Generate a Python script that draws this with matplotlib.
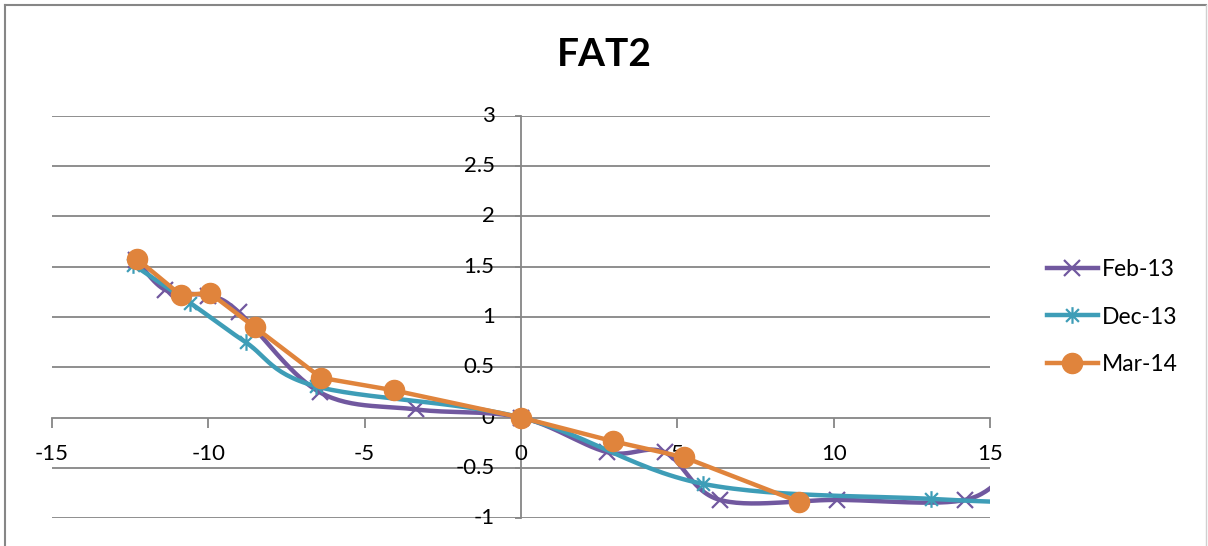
import numpy as np
import matplotlib
matplotlib.use("Agg")
import matplotlib.pyplot as plt
from matplotlib.path import Path
from matplotlib.lines import Line2D

plt.rcParams['font.family'] = ['Lato', 'DejaVu Sans']
plt.rcParams['axes.unicode_minus'] = False

# Feb-13
feb_x = [-12.3, -11.38, -10.0, -9.03, -6.43, -3.35, 0.0, 2.76, 4.59, 6.36, 10.1, 14.2, 15.8]
feb_y = [1.57, 1.27, 1.21, 1.05, 0.25, 0.08, 0.0, -0.345, -0.345, -0.82, -0.82, -0.82, -0.45]
# Dec-13
dec_x = [-12.4, -10.58, -8.81, -6.55, 0.0, 5.82, 13.12, 16.5]
dec_y = [1.52, 1.14, 0.75, 0.31, 0.0, -0.66, -0.81, -0.85]
# Mar-14
mar_x = [-12.29, -10.87, -9.96, -8.52, -6.39, -4.06, 0.0, 2.94, 5.21, 8.90]
mar_y = [1.58, 1.215, 1.24, 0.90, 0.395, 0.27, 0.0, -0.236, -0.395, -0.84]

labels = ['Feb-13', 'Dec-13', 'Mar-14']
colors = ['#71589f', '#3e9db7', '#e0843c']


def smooth(xs, ys, n=30):
    # Catmull-Rom style bezier smoothing like spreadsheet "smoothed line"
    p = np.column_stack([xs, ys]).astype(float)
    out = []
    for i in range(len(p) - 1):
        p0 = p[i - 1] if i > 0 else p[i]
        p1, p2 = p[i], p[i + 1]
        p3 = p[i + 2] if i + 2 < len(p) else p[i + 1]
        c1 = p1 + (p2 - p0) / 6
        c2 = p2 - (p3 - p1) / 6
        t = np.linspace(0, 1, n)[:, None]
        seg = ((1 - t) ** 3 * p1 + 3 * (1 - t) ** 2 * t * c1
               + 3 * (1 - t) * t ** 2 * c2 + t ** 3 * p2)
        out.append(seg if i == 0 else seg[1:])
    s = np.vstack(out)
    return s[:, 0], s[:, 1]


# excel-ish star marker: X with a vertical bar
star = Path([(-1, -1), (1, 1), (-1, 1), (1, -1), (0, -1.3), (0, 1.3)],
            [Path.MOVETO, Path.LINETO, Path.MOVETO, Path.LINETO, Path.MOVETO, Path.LINETO])

fig = plt.figure(figsize=(12.08, 5.46), dpi=100)
ax = fig.add_axes([52 / 1208, 28 / 546, 938 / 1208, 402 / 546])

grey = '#868686'
lw = 3.2

sx, sy = smooth(feb_x, feb_y)
ax.plot(sx, sy, color=colors[0], lw=lw, solid_capstyle='round', zorder=3)
ax.plot(feb_x, feb_y, ls='none', marker='x', ms=12, mew=1.6, color=colors[0], zorder=4)

sx, sy = smooth(dec_x, dec_y)
ax.plot(sx, sy, color=colors[1], lw=lw, solid_capstyle='round', zorder=5)
ax.plot(dec_x, dec_y, ls='none', marker=star, ms=12, mew=1.6, color=colors[1], zorder=6)

ax.plot(mar_x, mar_y, color=colors[2], lw=lw, solid_capstyle='round', zorder=7)
ax.plot(mar_x, mar_y, ls='none', marker='o', ms=14.5, color=colors[2], zorder=8)

ax.set_xlim(-15, 15)
ax.set_ylim(-1, 3)
ax.set_xticks([-15, -10, -5, 0, 5, 10, 15])
ax.set_yticks([-1, -0.5, 0, 0.5, 1, 1.5, 2, 2.5, 3])
ax.set_yticklabels(['-1', '-0.5', '0', '0.5', '1', '1.5', '2', '2.5', '3'])

for y in [-1, -0.5, 0.5, 1, 1.5, 2, 2.5, 3]:
    ax.axhline(y, color=grey, lw=1.3, zorder=1)

ax.spines['top'].set_visible(False)
ax.spines['right'].set_visible(False)
ax.spines['left'].set_position(('data', 0))
ax.spines['bottom'].set_position(('data', 0))
for s in ['left', 'bottom']:
    ax.spines[s].set_color(grey)
    ax.spines[s].set_linewidth(1.3)
    ax.spines[s].set_zorder(1)

ax.tick_params(axis='x', direction='out', length=7, width=1.3, color=grey,
               pad=12, labelsize=16, labelcolor='black')
ax.tick_params(axis='y', direction='out', length=4, width=1.3, color=grey,
               pad=15, labelsize=16, labelcolor='black')
for lab in ax.get_yticklabels():
    lab.set_verticalalignment('center')

fig.text(0.5, 1 - 55 / 546, 'FAT2', ha='center', va='center',
         fontsize=28, fontweight='bold')

handles = [
    Line2D([], [], color=colors[0], lw=lw, marker='x', ms=12, mew=1.6),
    Line2D([], [], color=colors[1], lw=lw, marker=star, ms=12, mew=1.6),
    Line2D([], [], color=colors[2], lw=lw, marker='o', ms=14.5),
]
fig.legend(handles, labels, loc='center left', bbox_to_anchor=(1038 / 1208, 1 - 317 / 546),
           frameon=False, fontsize=16.5, handlelength=2.2, handletextpad=0.2,
           labelspacing=1.15, borderaxespad=0)

# chart area border
fig.add_artist(Line2D([4.5 / 1208, 4.5 / 1208], [0, 1 - 4.5 / 546],
                      transform=fig.transFigure, color=grey, lw=1.5))
fig.add_artist(Line2D([4.5 / 1208, 1206 / 1208], [1 - 4.5 / 546, 1 - 4.5 / 546],
                      transform=fig.transFigure, color=grey, lw=1.5))
fig.add_artist(Line2D([1206 / 1208, 1206 / 1208], [0, 1 - 4.5 / 546],
                      transform=fig.transFigure, color='#d0d0d0', lw=1.0))

fig.savefig('out.png', dpi=100)
